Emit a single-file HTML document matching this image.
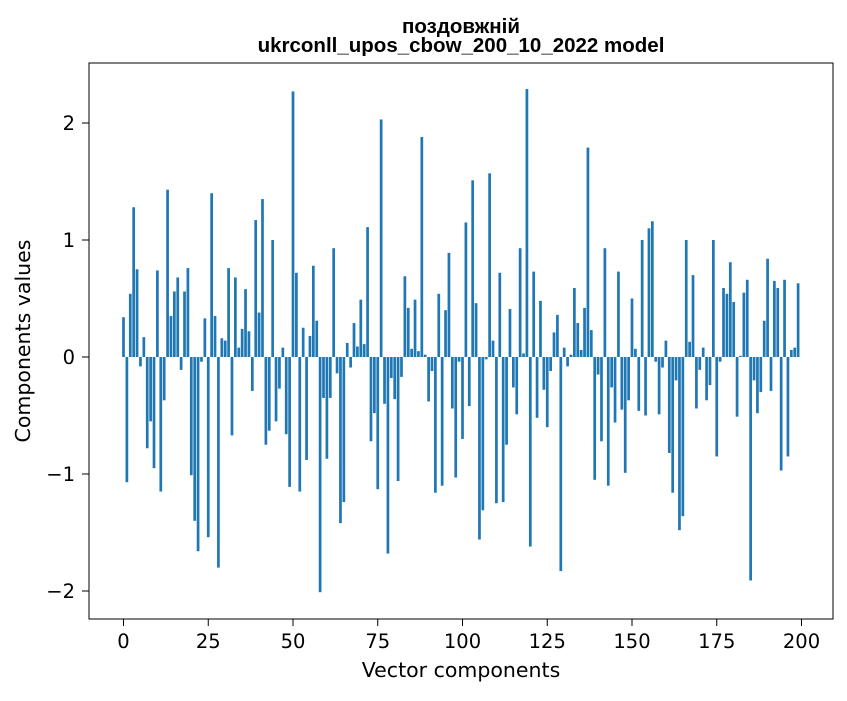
<!DOCTYPE html>
<html><head><meta charset="utf-8"><style>
body{margin:0;background:#fff;}
svg{font-family:"DejaVu Sans","Liberation Sans",sans-serif;}
</style></head><body>
<svg id="chart" width="847" height="696">
<text x="461" y="33" text-anchor="middle" font-size="20.5" font-weight="bold" font-family="Liberation Sans, sans-serif">поздовжній</text>
<text x="461" y="52" text-anchor="middle" font-size="20.5" font-weight="bold" font-family="Liberation Sans, sans-serif">ukrconll_upos_cbow_200_10_2022 model</text>
<g id="bars"></g>
<g id="axes"></g>
<rect x="89" y="63" width="744" height="556" fill="none" stroke="#000" stroke-width="1"/>
<text x="461" y="677" text-anchor="middle" font-size="20.5">Vector components</text>
<text x="30" y="341" text-anchor="middle" font-size="20.5" transform="rotate(-90 30 341)">Components values</text>
</svg>
<script>
const values = [0.34,-1.07,0.54,1.28,0.75,-0.08,0.17,-0.78,-0.55,-0.95,0.74,-1.15,-0.37,1.43,0.35,0.56,0.68,-0.11,0.56,0.76,
-1.01,-1.40,-1.66,-0.04,0.33,-1.54,1.40,0.35,-1.80,0.16,0.14,0.76,-0.67,0.68,0.08,0.24,0.58,0.22,-0.29,1.17,
0.38,1.35,-0.75,-0.63,1.00,-0.55,-0.27,0.08,-0.66,-1.11,2.27,0.72,-1.15,0.25,-0.88,0.18,0.78,0.31,-2.01,-0.35,
-0.87,-0.35,0.93,-0.14,-1.42,-1.24,0.12,-0.09,0.29,0.09,0.49,0.11,1.11,-0.72,-0.48,-1.13,2.03,-0.40,-1.68,-0.18,
-0.36,-1.06,-0.17,0.69,0.42,0.07,0.49,0.05,1.88,0.02,-0.38,-0.12,-1.16,0.54,-1.10,0.40,0.89,-0.44,-1.03,-0.04,
-0.70,1.15,-0.42,1.51,0.46,-1.56,-1.31,-0.02,1.57,0.14,-1.25,0.72,-1.24,-0.75,0.41,-0.26,-0.49,0.93,0.03,2.29,
-1.62,0.73,-0.52,0.48,-0.28,-0.60,-0.12,0.21,0.36,-1.83,0.08,-0.08,0.02,0.59,0.29,0.06,0.42,1.79,0.23,-1.05,
-0.15,-0.72,0.93,-1.10,-0.26,-0.56,0.73,-0.45,-0.99,-0.37,0.50,0.07,-0.46,1.00,-0.50,1.10,1.16,-0.04,-0.49,-0.09,
0.14,-0.82,-1.16,-0.20,-1.48,-1.36,1.00,0.13,0.70,-0.44,-0.11,0.08,-0.37,-0.24,1.00,-0.85,-0.04,0.59,0.54,0.81,
0.47,-0.51,0.01,0.55,0.66,-1.91,-0.20,-0.48,-0.30,0.31,0.84,-0.29,0.65,0.59,-0.97,0.66,-0.85,0.06,0.08,0.63];
const xTicks = [0,25,50,75,100,125,150,175,200];
const yTicks = [-2,-1,0,1,2];
const yTickLabels = ["\u22122","\u22121","0","1","2"];

const NS="http://www.w3.org/2000/svg";
function xs(i){return 123.5+3.39*i;}
function ys(v){return 357-117*v;}
const bars=document.getElementById('bars');
values.forEach((v,i)=>{
  const r=document.createElementNS(NS,'rect');
  const w=0.8*3.39;
  r.setAttribute('x',xs(i)-w/2);
  r.setAttribute('width',w);
  r.setAttribute('y',Math.min(ys(v),ys(0)));
  r.setAttribute('height',Math.abs(ys(v)-ys(0)));
  r.setAttribute('fill','#1f77b4');
  
  
  bars.appendChild(r);
});
const axes=document.getElementById('axes');
xTicks.forEach(t=>{
  const l=document.createElementNS(NS,'line');
  l.setAttribute('x1',xs(t));l.setAttribute('x2',xs(t));
  l.setAttribute('y1',619);l.setAttribute('y2',626);
  l.setAttribute('stroke','#000');
  
  
  axes.appendChild(l);
  const tx=document.createElementNS(NS,'text');
  tx.setAttribute('x',xs(t));tx.setAttribute('y',648);
  tx.setAttribute('text-anchor','middle');tx.setAttribute('font-size','19.5');
  tx.textContent=t;
  
  
  axes.appendChild(tx);
});
yTicks.forEach((t,k)=>{
  const l=document.createElementNS(NS,'line');
  l.setAttribute('x1',82);l.setAttribute('x2',89);
  l.setAttribute('y1',ys(t));l.setAttribute('y2',ys(t));
  l.setAttribute('stroke','#000');
  
  
  axes.appendChild(l);
  const tx=document.createElementNS(NS,'text');
  tx.setAttribute('x',75);tx.setAttribute('y',ys(t)+7);
  tx.setAttribute('text-anchor','end');tx.setAttribute('font-size','19.5');
  tx.textContent=yTickLabels[k];
  
  
  axes.appendChild(tx);
});
</script>
</body></html>
